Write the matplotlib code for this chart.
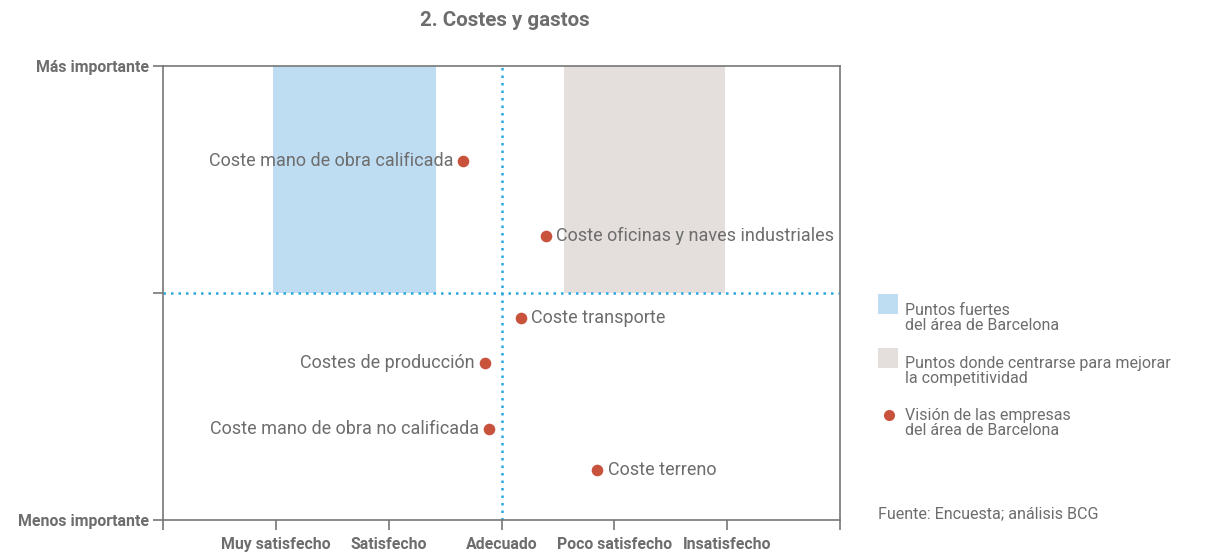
import numpy as np
import matplotlib.pyplot as plt
from matplotlib.patches import Rectangle
from matplotlib.lines import Line2D

plt.rcParams['font.family'] = ['Roboto', 'DejaVu Sans']

# data
x_labels = ['Muy satisfecho', 'Satisfecho', 'Adecuado', 'Poco satisfecho', 'Insatisfecho']
x_ticks = [1, 2, 3, 4, 5]
y_labels = ['Menos importante', '', 'Más importante']
names = ['Coste mano de obra calificada', 'Coste oficinas y naves industriales',
         'Coste transporte', 'Costes de producción',
         'Coste mano de obra no calificada', 'Coste terreno']
satisf = [2.66, 3.39, 3.17, 2.85, 2.89, 3.85]
importance = [1.58, 1.25, 0.89, 0.69, 0.40, 0.22]
label_side = ['left', 'right', 'right', 'left', 'left', 'right']
strong_band = (0.975, 2.42)
improve_band = (3.55, 4.98)

grey = '#6d6d6d'
blue = '#bfddf2'
beige = '#e4dfdd'
red = '#c9523c'
dot_blue = '#2aa9e0'

fig = plt.figure(figsize=(12.07, 5.53), dpi=100)
ax = fig.add_axes([163/1207, 1-520/553, 677/1207, 454/553])
ax.set_xlim(0, 6)
ax.set_ylim(0, 2)

ax.axvspan(strong_band[0], strong_band[1], ymin=0.5, ymax=1, color=blue, lw=0, zorder=0)
ax.axvspan(improve_band[0], improve_band[1], ymin=0.5, ymax=1, color=beige, lw=0, zorder=0)
ax.axhline(1, color=dot_blue, ls=(0, (1, 2)), lw=1.8, zorder=1)
ax.axvline(3, color=dot_blue, ls=(0, (1, 2)), lw=1.8, zorder=1)

ax.scatter(satisf, importance, s=70, color=red, zorder=3, lw=0)
for n, xv, yv, side in zip(names, satisf, importance, label_side):
    if side == 'left':
        ax.annotate(n, (xv, yv), xytext=(-7, 0), textcoords='offset points',
                    ha='right', va='center', fontsize=13.0, color=grey)
    else:
        ax.annotate(n, (xv, yv), xytext=(7.5, 0), textcoords='offset points',
                    ha='left', va='center', fontsize=13.0, color=grey)

ax.set_xticks([0] + x_ticks + [6])
ax.set_xticklabels([''] + x_labels + [''], fontsize=11.4, fontweight='bold', color=grey)
ax.set_yticks([0, 1, 2])
ax.set_yticklabels(y_labels, fontsize=11.4, fontweight='bold', color=grey)
ax.tick_params(axis='both', color='#777777', length=7, width=1.2)
ax.tick_params(axis='y', pad=3)
ax.tick_params(axis='x', pad=5)
for sp in ax.spines.values():
    sp.set_color('#777777')
    sp.set_linewidth(1.2)

fig.text(505/1207, 1-20/553, '2. Costes y gastos', ha='center', va='center',
         fontsize=14.8, fontweight='bold', color=grey)

# legend built by hand
fig.patches.append(Rectangle((878/1207, 1-314/553), 20/1207, 20/553,
                             transform=fig.transFigure, color=blue, lw=0))
fig.patches.append(Rectangle((878/1207, 1-368/553), 20/1207, 20/553,
                             transform=fig.transFigure, color=beige, lw=0))
fig.lines.append(Line2D([889/1207], [1-415/553], transform=fig.transFigure,
                        marker='o', ms=8, color=red, mew=0))
leg_texts = ['Puntos fuertes\ndel área de Barcelona',
             'Puntos donde centrarse para mejorar\nla competitividad',
             'Visión de las empresas\ndel área de Barcelona']
for t, yy in zip(leg_texts, [318, 371, 423]):
    fig.text(905/1207, 1-yy/553, t, ha='left', va='center', fontsize=11.5,
             color=grey, linespacing=1.05)
fig.text(878/1207, 1-514/553, 'Fuente: Encuesta; análisis BCG', ha='left', va='center',
         fontsize=11.6, color=grey)

fig.savefig('out.png', dpi=100)
